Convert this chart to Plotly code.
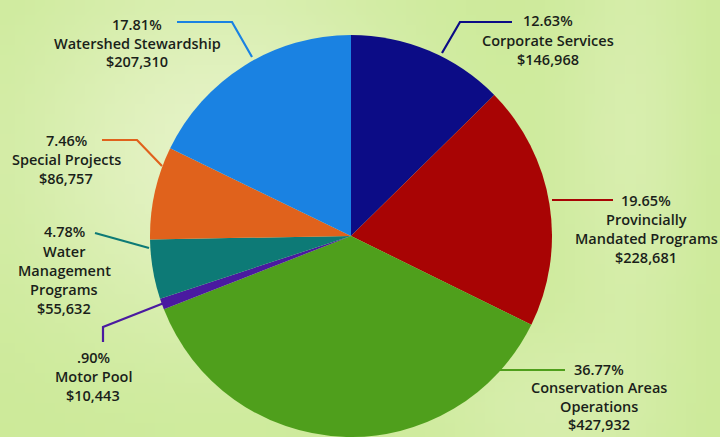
import base64, struct, zlib, math
import plotly.graph_objects as go

# ---------------- data ----------------
categories = ["Corporate Services", "Provincially Mandated Programs",
              "Conservation Areas Operations", "Motor Pool",
              "Water Management Programs", "Special Projects",
              "Watershed Stewardship"]
amounts = [146968, 228681, 427932, 10443, 55632, 86757, 207310]
percent_labels = ["12.63%", "19.65%", "36.77%", ".90%", "4.78%", "7.46%", "17.81%"]
label_lines = [["Corporate Services"], ["Provincially", "Mandated Programs"],
               ["Conservation Areas", "Operations"], ["Motor Pool"],
               ["Water", "Management", "Programs"], ["Special Projects"],
               ["Watershed Stewardship"]]
colors = ["#0c0c86", "#a80404", "#4f9f1c", "#4a1aa0", "#0d7a76", "#e0621c", "#1a82e2"]

W, H = 720, 437

# ---------------- background gradient image ----------------
def make_png(w, h, fn):
    raw = b""
    for j in range(h):
        raw += b"\x00"
        for i in range(w):
            raw += bytes(fn(i / (w - 1), j / (h - 1)))
    def chunk(t, d):
        c = struct.pack(">I", len(d)) + t + d
        return c + struct.pack(">I", zlib.crc32(t + d) & 0xffffffff)
    png = b"\x89PNG\r\n\x1a\n"
    png += chunk(b"IHDR", struct.pack(">IIBBBBB", w, h, 8, 2, 0, 0, 0))
    png += chunk(b"IDAT", zlib.compress(raw, 9))
    png += chunk(b"IEND", b"")
    return "data:image/png;base64," + base64.b64encode(png).decode()

def bg(u, v):
    base = (204, 234, 152)
    pale = (238, 246, 214)
    w1 = math.exp(-((u - 0.30) / 0.28) ** 2 - ((v - 0.35) / 0.45) ** 2) * 0.75
    w2 = math.exp(-((u - 0.88) / 0.10) ** 2 - ((v - 0.30) / 0.6) ** 2) * 0.35
    w3 = math.exp(-((u - 0.75) / 0.15) ** 2 - ((v - 0.95) / 0.2) ** 2) * 0.3
    w = min(1.0, w1 + w2 + w3)
    return tuple(int(base[k] + (pale[k] - base[k]) * w) for k in range(3))

img = make_png(72, 44, bg)

# ---------------- pie ----------------
cx, cy, r = 351, 236, 201
fig = go.Figure(go.Pie(
    labels=categories, values=amounts, sort=False, direction="clockwise",
    rotation=0, textinfo="none", hoverinfo="label+value+percent",
    marker=dict(colors=colors, line=dict(width=0)),
    domain=dict(x=[(cx - r) / W, (cx + r) / W], y=[(H - cy - r) / H, (H - cy + r) / H]),
    showlegend=False,
))

def px(x):
    return x / W

def py(y):
    return 1 - y / H

# label anchor (center x, first-line y) and leader line polylines in pixels
label_pos = [(548, 21), (646, 200), (599, 369), (93, 357), (64, 232), (66, 140), (137, 24)]
line_gap = [19, 19, 18.5, 19, 19, 19, 19]
leaders = [
    [(512, 22), (460, 22), (442, 53)],
    [(552, 200), (613, 200)],
    [(499, 370), (565, 370)],
    [(103, 342), (103, 327), (164, 303)],
    [(95, 233), (149, 248)],
    [(102, 140), (137, 140), (162, 166)],
    [(177, 22), (232, 22), (252, 57)],
]

shapes = []
annotations = []
for i in range(len(categories)):
    pts = leaders[i]
    path = "M " + " L ".join(f"{px(x):.5f},{py(y):.5f}" for x, y in pts)
    shapes.append(dict(type="path", xref="paper", yref="paper", path=path,
                       line=dict(color=colors[i], width=2.2)))
    lines = [percent_labels[i]] + label_lines[i] + [f"${amounts[i]:,}"]
    x0, y0 = label_pos[i]
    for k, t in enumerate(lines):
        annotations.append(dict(text=t, x=px(x0), y=py(y0 + k * line_gap[i]),
                                xref="paper", yref="paper", showarrow=False,
                                xanchor="center", yanchor="middle",
                                font=dict(family="Open Sans", size=14.5,
                                          color="#1a1f1a", weight=600)))

fig.update_layout(
    width=W, height=H, margin=dict(l=0, r=0, t=0, b=0),
    paper_bgcolor="#d2eca0", plot_bgcolor="rgba(0,0,0,0)",
    images=[dict(source=img, xref="paper", yref="paper", x=0, y=1,
                 sizex=1, sizey=1, sizing="stretch", layer="below",
                 xanchor="left", yanchor="top")],
    shapes=shapes, annotations=annotations,
)
fig.write_html("out.html", config={"displayModeBar": False},
               post_script="document.body.style.margin='0px';document.body.style.overflow='hidden';")
